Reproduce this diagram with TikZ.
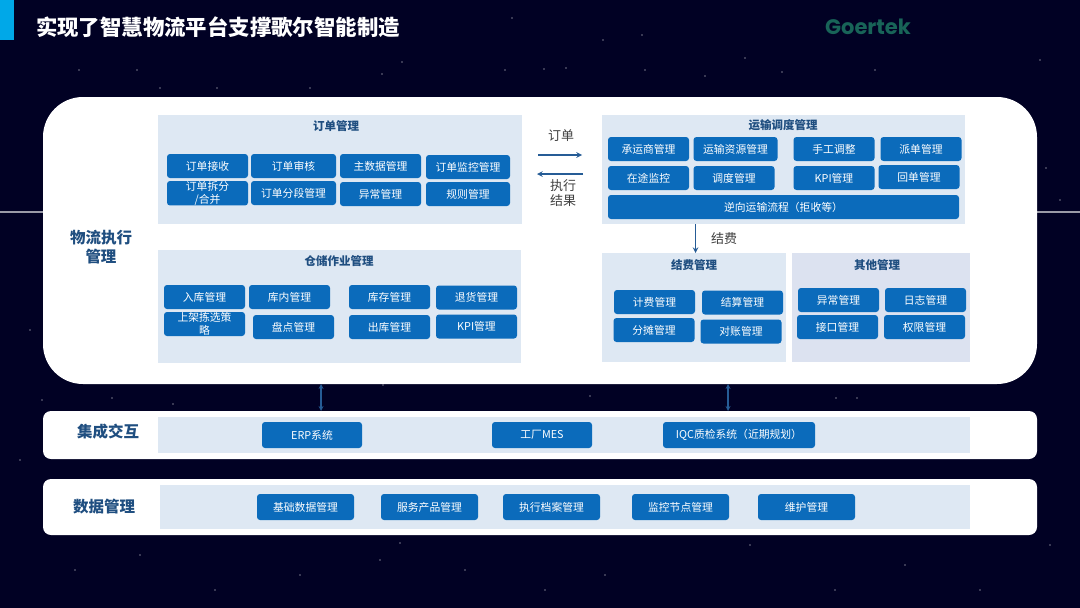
\documentclass[tikz,border=0pt]{standalone}
\usepackage{fontspec}
\usepackage{xcolor}
\setmainfont{Noto Sans CJK SC}
\newfontfamily\logofont{Poppins}
\usetikzlibrary{arrows, positioning}
\definecolor{nightcolor}{RGB}{1,1,36}
\definecolor{barcolor}{RGB}{0,168,232}
\definecolor{panelcolor}{RGB}{222,232,243}
\definecolor{othercolor}{RGB}{220,226,240}
\definecolor{buttoncolor}{RGB}{11,107,187}
\definecolor{headcolor}{RGB}{31,78,128}
\definecolor{flowcolor}{RGB}{38,92,150}
\definecolor{logocolor}{RGB}{24,100,88}

\begin{document}
\begin{tikzpicture}[
    x=1pt, y=-1pt,
    node distance=3pt,
    band/.style={rectangle, fill=white, anchor=north west, inner sep=0pt, outer sep=0pt},
    panel/.style={rectangle, fill=panelcolor, anchor=north west, inner sep=0pt, outer sep=0pt},
    panelhead/.style={text=headcolor, inner sep=0pt, font=\fontsize{11.5}{14}\selectfont\bfseries},
    bandhead/.style={text=headcolor, inner sep=0pt, align=center, font=\fontsize{15.5}{19}\selectfont\bfseries},
    button/.style={rectangle, rounded corners=3pt, fill=buttoncolor, text=white, minimum width=81pt, minimum height=24pt, inner sep=0pt, outer sep=0pt, align=center, font=\fontsize{10.8}{13.5}\selectfont},
    flow/.style={->, >=stealth, flowcolor, line width=1.5pt},
    tag/.style={text=black!75, inner sep=0pt, align=center, font=\fontsize{13}{15}\selectfont},
    star/.style={white, opacity=0.45}
]
    \useasboundingbox (0,0) rectangle (1080,608);
    \fill[nightcolor] (0,0) rectangle (1080,608);

    % Stars
    \foreach \x/\y in {79/70,137/70,160/88,217/88,310/88,382/74,402/62,512/18,505/70,544/69,566/68,603/40,642/35,645/70,705/76,782/72,745/58,875/70,1040/60,100/20,
        320/430,42/400,112/398,173/404,383/385,590/396,836/398,857/398,1010/370,1060/200,1046/168,1030/300,30/330,20/460,
        75/570,140/555,215/590,300/575,380/560,400/543,465/570,545/590,605/575,750/545,835/590,905/565,980/590,1050/545}
        \fill[star] (\x,\y) circle (0.9);

    % Side line and title
    \draw[white!60!nightcolor, line width=1.5pt] (0,212) -- (1080,212);
    \fill[barcolor] (0,0) rectangle (14,40);
    \node[text=white, inner sep=0pt, font=\fontsize{21.4}{24}\selectfont\bfseries] (title) at (218,27) {实现了智慧物流平台支撑歌尔智能制造};
    \node[text=logocolor, inner sep=0pt, font=\fontsize{21}{24}\selectfont\logofont\bfseries] (logo) at (868,27) {Goertek};

    % Execution band
    \node[band, minimum width=994pt, minimum height=287pt, rounded corners=40pt] (exec) at (43,97) {};
    \node[bandhead] (execlabel) at (101,247) {物流执行\\管理};

    % Order panel
    \node[panel, minimum width=364pt, minimum height=109pt] (order) at (158,115) {};
    \node[panelhead] (orderlabel) at (336,126) {订单管理};
    \node[button, below right=39pt and 9pt of order.north west] (orderin) {订单接收};
    \node[button, right=3pt of orderin, minimum width=85pt] (orderaudit) {订单审核};
    \node[button, right=4pt of orderaudit] (masterdata) {主数据管理};
    \node[button, right=5pt of masterdata, minimum width=84pt, yshift=-1pt] (ordermonitor) {订单监控管理};
    \node[button, below=3pt of orderin] (ordersplit) {订单拆分\\/合并};
    \node[button, below=3pt of orderaudit, minimum width=85pt] (ordersegment) {订单分段管理};
    \node[button, below=4pt of masterdata] (orderfault) {异常管理};
    \node[button, below=3pt of ordermonitor, minimum width=84pt] (orderrule) {规则管理};

    % Transport panel
    \node[panel, minimum width=363pt, minimum height=109pt] (transport) at (602,115) {};
    \node[panelhead] (transportlabel) at (783,125) {运输调度管理};
    \node[button, below right=22pt and 6pt of transport.north west] (carrier) {承运商管理};
    \node[button, right=4.5pt of carrier, minimum width=84pt] (resource) {运输资源管理};
    \node[button, right=16pt of resource] (manual) {手工调整};
    \node[button, right=6pt of manual] (dispatch) {派单管理};
    \node[button, below=5pt of carrier] (transit) {在途监控};
    \node[button, right=4.5pt of transit] (schedule) {调度管理};
    \node[button, below=5pt of manual] (kpitrans) {KPI管理};
    \node[button, below=4pt of dispatch, xshift=-2pt] (receipt) {回单管理};
    \node[button, below right=80pt and 6pt of transport.north west, minimum width=351pt] (reverse) {逆向运输流程（拒收等）};

    % Warehouse panel
    \node[panel, minimum width=363pt, minimum height=113pt] (store) at (158,250) {};
    \node[panelhead] (storelabel) at (339,261) {仓储作业管理};
    \node[button, below right=35pt and 6pt of store.north west] (inbound) {入库管理};
    \node[button, right=4pt of inbound] (inside) {库内管理};
    \node[button, right=19pt of inside] (stock) {库存管理};
    \node[button, right=6pt of stock, yshift=-0.5pt] (returns) {退货管理};
    \node[button, below=3pt of inbound] (shelf) {上架拣选策\\略};
    \node[button, below=6pt of inside, xshift=4pt] (count) {盘点管理};
    \node[button, below=6pt of stock] (outbound) {出库管理};
    \node[button, below=5pt of returns] (kpistore) {KPI管理};

    % Fee panel
    \node[panel, minimum width=184pt, minimum height=109pt] (fee) at (602,253) {};
    \node[panelhead] (feelabel) at (694,265) {结费管理};
    \node[button, below right=37pt and 12pt of fee.north west] (billing) {计费管理};
    \node[button, right=7pt of billing, yshift=-0.5pt] (settle) {结算管理};
    \node[button, below=4pt of billing, xshift=-0.5pt] (share) {分摊管理};
    \node[button, below=5pt of settle, xshift=-1.5pt] (reconcile) {对账管理};

    % Other panel
    \node[panel, fill=othercolor, minimum width=178pt, minimum height=109pt] (other) at (792,253) {};
    \node[panelhead] (otherlabel) at (877,265) {其他管理};
    \node[button, below right=35pt and 6pt of other.north west] (otherfault) {异常管理};
    \node[button, right=6pt of otherfault] (otherlog) {日志管理};
    \node[button, below=3pt of otherfault, xshift=-1pt] (otherport) {接口管理};
    \node[button, below=3pt of otherlog, xshift=-1pt] (otherright) {权限管理};

    % Integration band
    \node[band, minimum width=994pt, minimum height=48pt, rounded corners=8pt] (integ) at (43,411) {};
    \node[bandhead] (integlabel) at (108,432) {集成交互};
    \node[panel, minimum width=812pt, minimum height=36pt] (integpanel) at (158,417) {};
    \node[button, below right=5pt and 104pt of integpanel.north west, minimum width=100pt, minimum height=26pt] (erp) {ERP系统};
    \node[button, right=130pt of erp, minimum width=100pt, minimum height=26pt] (mes) {工厂MES};
    \node[button, right=71pt of mes, minimum width=152pt, minimum height=26pt] (iqc) {IQC质检系统（近期规划）};

    % Data band
    \node[band, minimum width=994pt, minimum height=56pt, rounded corners=8pt] (data) at (43,479) {};
    \node[bandhead] (datalabel) at (104,507) {数据管理};
    \node[panel, minimum width=810pt, minimum height=44pt] (datapanel) at (160,485) {};
    \node[button, below right=9pt and 97pt of datapanel.north west, minimum width=97pt, minimum height=26pt] (basedata) {基础数据管理};
    \node[button, right=27pt of basedata, minimum width=97pt, minimum height=26pt] (product) {服务产品管理};
    \node[button, right=25pt of product, minimum width=97pt, minimum height=26pt] (archive) {执行档案管理};
    \node[button, right=32pt of archive, minimum width=97pt, minimum height=26pt] (monitor) {监控节点管理};
    \node[button, right=29pt of monitor, minimum width=97pt, minimum height=26pt] (maintain) {维护管理};

    % Connectors
    \draw[flow, shorten <=16pt, shorten >=20pt] ([yshift=14.5pt]order.east) -- ([yshift=14.5pt]transport.west);
    \draw[flow, shorten <=19pt, shorten >=15pt] ([yshift=-4.5pt]transport.west) -- ([yshift=-4.5pt]order.east);
    \node[tag] (ordertag) at (561,136) {订单};
    \node[tag] (resulttag) at (563,193) {执行\\结果};
    \draw[flow] ([xshift=1.5pt]fee.north |- transport.south) -- ([xshift=1.5pt]fee.north);
    \node[tag] (feetag) at (724,239) {结费};
    \draw[flow, <->, line width=1.2pt] ([xshift=-219pt]exec.south) -- ([xshift=-219pt]integ.north);
    \draw[flow, <->, line width=1.2pt] ([xshift=188pt]exec.south) -- ([xshift=188pt]integ.north);
\end{tikzpicture}
\end{document}
